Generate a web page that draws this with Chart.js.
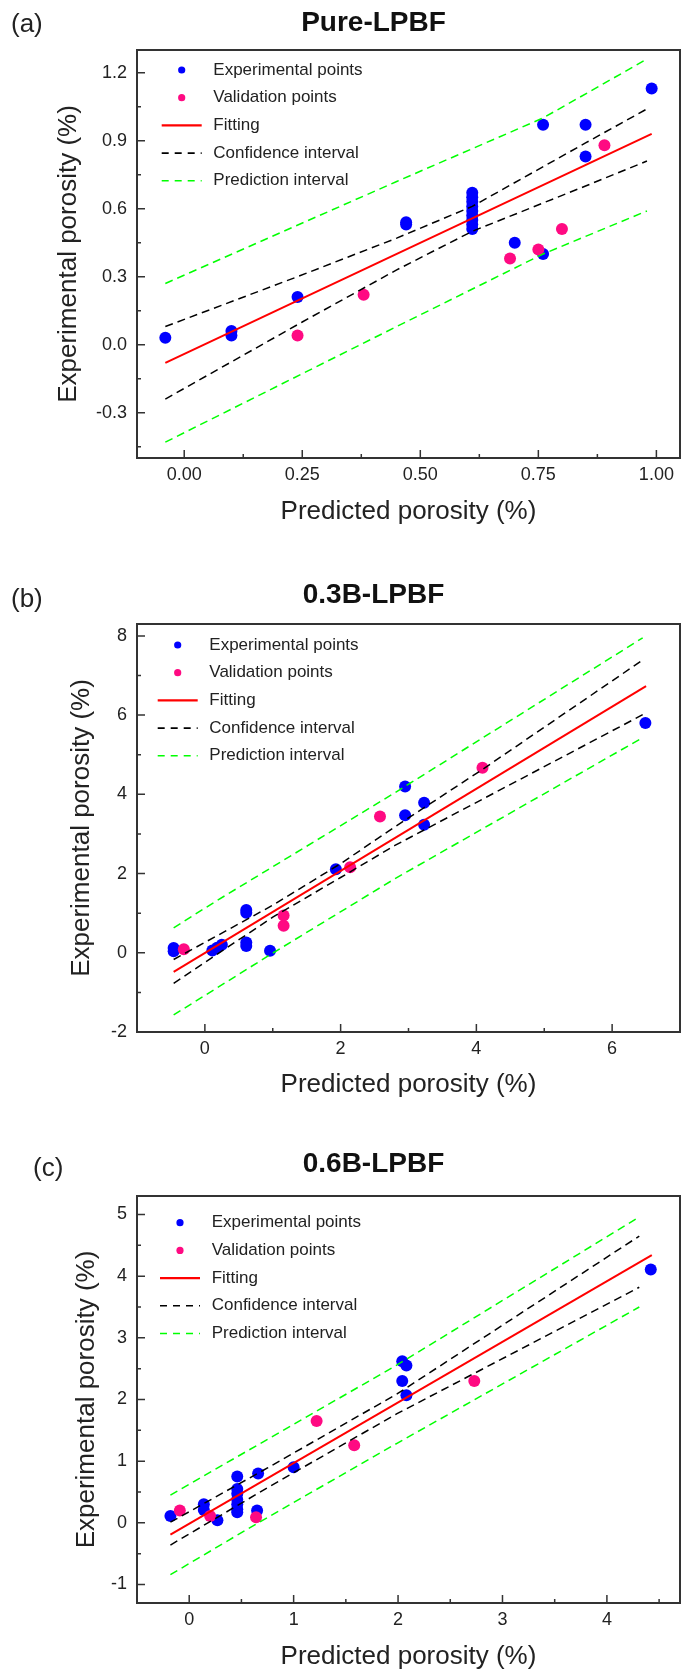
<!DOCTYPE html>
<html>
<head>
<meta charset="utf-8">
<title>Experimental vs predicted porosity</title>
<script src="https://cdn.jsdelivr.net/npm/chart.js@4.4.1/dist/chart.umd.min.js"></script>
<style>
  body { margin: 0; background: #fff; }
  #page { position: relative; width: 686px; height: 1674px; overflow: hidden; font-family: "Liberation Sans", Arial, sans-serif; }
  #page canvas { position: absolute; left: 0; }
  .tag { position: absolute; font-size: 26px; line-height: 26px; color: #222; }
</style>
</head>
<body>
<div id="page">
  <canvas id="chartA" width="686" height="540" style="top:0px"></canvas>
  <canvas id="chartB" width="686" height="540" style="top:570px"></canvas>
  <canvas id="chartC" width="686" height="534" style="top:1140px"></canvas>
  <div class="tag" style="left:11px; top:10px">(a)</div>
  <div class="tag" style="left:11px; top:585px">(b)</div>
  <div class="tag" style="left:33px; top:1154px">(c)</div>
</div>
<script>
// ---------- (a) Pure-LPBF ----------
const aTicksX = [0, 0.25, 0.5, 0.75, 1.0];
const aTicksY = [-0.3, 0, 0.3, 0.6, 0.9, 1.2];
const aExpX = [-0.04, 0.10, 0.10, 0.24, 0.47, 0.47, 0.61, 0.61, 0.61, 0.61, 0.61, 0.61, 0.61, 0.61, 0.61, 0.70, 0.76, 0.76, 0.85, 0.85, 0.99];
const aExpY = [0.03, 0.06, 0.04, 0.21, 0.54, 0.53, 0.67, 0.65, 0.63, 0.61, 0.59, 0.57, 0.55, 0.53, 0.51, 0.45, 0.97, 0.40, 0.97, 0.83, 1.13];
const aValX = [0.24, 0.38, 0.69, 0.75, 0.80, 0.89];
const aValY = [0.04, 0.22, 0.38, 0.42, 0.51, 0.88];
const aFitX = [-0.04, 0.99];
const aFitY = [-0.08, 0.93];
const aConfUpX = [-0.04, 0.24, 0.45, 0.61, 0.85, 0.98];
const aConfUpY = [0.08, 0.30, 0.47, 0.61, 0.89, 1.04];
const aConfLoX = [-0.04, 0.25, 0.45, 0.61, 0.85, 0.98];
const aConfLoY = [-0.24, 0.10, 0.33, 0.50, 0.70, 0.81];
const aPredUpX = [-0.04, 0.45, 0.76, 0.98];
const aPredUpY = [0.27, 0.72, 1.00, 1.26];
const aPredLoX = [-0.04, 0.45, 0.76, 0.98];
const aPredLoY = [-0.43, 0.08, 0.40, 0.59];

// ---------- (b) 0.3B-LPBF ----------
const bTicksX = [0, 2, 4, 6];
const bTicksY = [-2, 0, 2, 4, 6, 8];
const bExpX = [-0.46, -0.46, 0.11, 0.18, 0.25, 0.61, 0.61, 0.61, 0.61, 0.96, 1.93, 2.95, 2.95, 3.23, 3.23, 6.49];
const bExpY = [0.04, 0.12, 0.06, 0.13, 0.20, 1.08, 1.01, 0.26, 0.17, 0.05, 2.11, 3.47, 4.20, 3.79, 3.23, 5.80];
const bValX = [-0.31, 1.16, 1.16, 2.14, 2.58, 4.09];
const bValY = [0.09, 0.94, 0.68, 2.16, 3.44, 4.67];
const bFitX = [-0.46, 6.50];
const bFitY = [-0.48, 6.73];
const bConfUpX = [-0.46, 1.0, 2.0, 2.8, 4.1, 6.45];
const bConfUpY = [-0.17, 1.20, 2.25, 3.18, 4.64, 7.39];
const bConfLoX = [-0.46, 1.0, 2.0, 2.8, 3.23, 6.45];
const bConfLoY = [-0.77, 0.90, 1.90, 2.71, 3.10, 6.01];
const bPredUpX = [-0.46, 0.18, 2.8, 6.45];
const bPredUpY = [0.63, 1.32, 4.04, 7.95];
const bPredLoX = [-0.46, 0.96, 2.8, 6.45];
const bPredLoY = [-1.57, -0.05, 1.87, 5.43];

// ---------- (c) 0.6B-LPBF ----------
const cTicksX = [0, 1, 2, 3, 4];
const cTicksY = [-1, 0, 1, 2, 3, 4, 5];
const cExpX = [-0.18, 0.14, 0.14, 0.27, 0.46, 0.46, 0.46, 0.46, 0.46, 0.46, 0.46, 0.66, 0.65, 1.00, 2.04, 2.08, 2.04, 2.08, 4.42];
const cExpY = [0.11, 0.30, 0.21, 0.04, 0.75, 0.55, 0.47, 0.38, 0.30, 0.22, 0.17, 0.80, 0.20, 0.90, 2.62, 2.55, 2.30, 2.07, 4.11];
const cValX = [-0.09, 0.20, 0.64, 1.22, 1.58, 2.73];
const cValY = [0.20, 0.11, 0.09, 1.65, 1.26, 2.30];
const cFitX = [-0.18, 4.43];
const cFitY = [-0.19, 4.34];
const cConfUpX = [-0.18, 0.75, 1.99, 4.31];
const cConfUpY = [0.01, 0.89, 2.09, 4.65];
const cConfLoX = [-0.18, 0.75, 1.99, 4.31];
const cConfLoY = [-0.36, 0.57, 1.77, 3.82];
const cPredUpX = [-0.18, 1.99, 4.31];
const cPredUpY = [0.45, 2.56, 4.96];
const cPredLoX = [-0.18, 0.64, 1.99, 4.31];
const cPredLoY = [-0.84, -0.02, 1.29, 3.50];

const BLUE = '#0000ff', PINK = '#ff0a82', RED = '#ff0000', GREEN = '#00ff00', BLACK = '#000000', AXIS = '#333333';

Chart.defaults.font.family = '"Liberation Sans", Arial, sans-serif';
Chart.defaults.color = '#222';

function pts(xs, ys) {
  return xs.map((x, i) => ({ x: x, y: ys[i] }));
}

function minorsOf(majors, min, max) {
  const step = majors[1] - majors[0];
  const out = [];
  for (let v = majors[0] - step / 2; v < max - 1e-9; v += step) {
    if (v > min + 1e-9) out.push(v);
  }
  return out;
}

// frame, inward ticks and the legend box inside the plot
const deco = {
  id: 'deco',
  afterDraw(chart, args, opts) {
    const ctx = chart.ctx, a = chart.chartArea;
    const xs = chart.scales.x, ys = chart.scales.y;
    ctx.save();
    ctx.strokeStyle = AXIS;
    ctx.lineWidth = 1.5;
    ctx.beginPath();
    const xMaj = xs.ticks.map(t => t.value), yMaj = ys.ticks.map(t => t.value);
    xMaj.forEach(v => { const p = xs.getPixelForValue(v); ctx.moveTo(p, a.bottom); ctx.lineTo(p, a.bottom - 8); });
    minorsOf(xMaj, xs.min, xs.max).forEach(v => { const p = xs.getPixelForValue(v); ctx.moveTo(p, a.bottom); ctx.lineTo(p, a.bottom - 4); });
    yMaj.forEach(v => { const p = ys.getPixelForValue(v); ctx.moveTo(a.left, p); ctx.lineTo(a.left + 8, p); });
    minorsOf(yMaj, ys.min, ys.max).forEach(v => { const p = ys.getPixelForValue(v); ctx.moveTo(a.left, p); ctx.lineTo(a.left + 4, p); });
    ctx.stroke();

    ctx.lineWidth = 2;
    ctx.strokeRect(a.left, a.top, a.right - a.left, a.bottom - a.top);

    // legend
    const items = chart.data.datasets.filter(d => d.legendKind);
    ctx.font = '17px "Liberation Sans", Arial, sans-serif';
    ctx.textBaseline = 'middle';
    ctx.textAlign = 'left';
    items.forEach((d, i) => {
      const cy = a.top + opts.rowY + i * 27.7;
      const cx = a.left + opts.dotX;
      if (d.legendKind === 'dot') {
        ctx.fillStyle = d.backgroundColor;
        ctx.beginPath();
        ctx.arc(cx, cy, 3.6, 0, Math.PI * 2);
        ctx.fill();
      } else {
        ctx.strokeStyle = d.borderColor;
        ctx.lineWidth = d.legendKind === 'solid' ? 2.2 : 1.6;
        ctx.setLineDash(d.legendKind === 'solid' ? [] : [7, 6]);
        ctx.beginPath();
        ctx.moveTo(cx - 20, cy);
        ctx.lineTo(cx + 20, cy);
        ctx.stroke();
        ctx.setLineDash([]);
      }
      ctx.fillStyle = '#222';
      ctx.fillText(d.label, a.left + opts.textX, cy);
    });
    ctx.restore();
  }
};

function makeDatasets(expX, expY, valX, valY, fitX, fitY, cuX, cuY, clX, clY, puX, puY, plX, plY) {
  const dash = [8, 5];
  return [
    { label: 'Experimental points', legendKind: 'dot', data: pts(expX, expY), backgroundColor: BLUE, borderColor: BLUE, pointRadius: 6, borderWidth: 0, order: 4 },
    { label: 'Validation points', legendKind: 'dot', data: pts(valX, valY), backgroundColor: PINK, borderColor: PINK, pointRadius: 6, borderWidth: 0, order: 3 },
    { label: 'Fitting', legendKind: 'solid', data: pts(fitX, fitY), showLine: true, pointRadius: 0, borderColor: RED, borderWidth: 2, order: 0 },
    { label: 'Confidence interval', legendKind: 'dash', data: pts(cuX, cuY), showLine: true, pointRadius: 0, borderColor: BLACK, borderWidth: 1.5, borderDash: dash, order: 1 },
    { label: 'Prediction interval', legendKind: 'dash', data: pts(puX, puY), showLine: true, pointRadius: 0, borderColor: GREEN, borderWidth: 1.5, borderDash: dash, order: 1 },
    { label: 'Confidence interval (lower)', data: pts(clX, clY), showLine: true, pointRadius: 0, borderColor: BLACK, borderWidth: 1.5, borderDash: dash, order: 1 },
    { label: 'Prediction interval (lower)', data: pts(plX, plY), showLine: true, pointRadius: 0, borderColor: GREEN, borderWidth: 1.5, borderDash: dash, order: 1 }
  ];
}

function makeChart(id, title, datasets, xTicks, yTicks, xRange, yRange, L) {
  return new Chart(document.getElementById(id), {
    type: 'scatter',
    data: { datasets: datasets },
    options: {
      responsive: false,
      animation: false,
      events: [],
      layout: { padding: { left: 62, right: 1, top: 0, bottom: 0 } },
      plugins: {
        legend: { display: false },
        tooltip: { enabled: false },
        title: {
          display: true, text: title, color: '#111',
          font: { size: 28, weight: 'bold' },
          padding: { top: L.titleTop, bottom: L.titleBottom }
        },
        deco: L.legend
      },
      scales: {
        x: {
          type: 'linear', min: xRange[0], max: xRange[1],
          grid: { display: false, drawTicks: false },
          border: { display: false },
          afterBuildTicks: s => { s.ticks = xTicks.map(v => ({ value: v })); },
          afterFit: s => { s.height = L.xH; },
          ticks: { autoSkip: false, maxRotation: 0, padding: 6.5, color: '#222', font: { size: 18 }, callback: v => Number(v).toFixed(L.xDec) },
          title: { display: true, text: 'Predicted porosity (%)', color: '#222', font: { size: 26 }, padding: { top: 0, bottom: L.xTitleBottom } }
        },
        y: {
          type: 'linear', min: yRange[0], max: yRange[1],
          grid: { display: false, drawTicks: false },
          border: { display: false },
          afterBuildTicks: s => { s.ticks = yTicks.map(v => ({ value: v })); },
          afterFit: s => { s.width = 75; },
          ticks: { autoSkip: false, padding: 10, color: '#222', font: { size: 18 }, callback: v => Number(v).toFixed(L.yDec) },
          title: { display: true, text: 'Experimental porosity (%)', color: '#222', font: { size: 26 }, padding: { top: L.yTitleTop, bottom: 0 } }
        }
      }
    },
    plugins: [deco]
  });
}

makeChart('chartA', 'Pure-LPBF',
  makeDatasets(aExpX, aExpY, aValX, aValY, aFitX, aFitY, aConfUpX, aConfUpY, aConfLoX, aConfLoY, aPredUpX, aPredUpY, aPredLoX, aPredLoY),
  aTicksX, aTicksY, [-0.1, 1.05], [-0.5, 1.3],
  { titleTop: 6.2, titleBottom: 10.2, xH: 82, xTitleBottom: 12.7, yTitleTop: -9, xDec: 2, yDec: 1,
    legend: { dotX: 44.7, textX: 76.3, rowY: 20 } });

makeChart('chartB', '0.3B-LPBF',
  makeDatasets(bExpX, bExpY, bValX, bValY, bFitX, bFitY, bConfUpX, bConfUpY, bConfLoX, bConfLoY, bPredUpX, bPredUpY, bPredLoX, bPredLoY),
  bTicksX, bTicksY, [-1, 7], [-2, 8.3],
  { titleTop: 8.2, titleBottom: 12.2, xH: 78, xTitleBottom: 9.4, yTitleTop: 4, xDec: 0, yDec: 0,
    legend: { dotX: 40.7, textX: 72.3, rowY: 21 } });

makeChart('chartC', '0.6B-LPBF',
  makeDatasets(cExpX, cExpY, cValX, cValY, cFitX, cFitY, cConfUpX, cConfUpY, cConfLoX, cConfLoY, cPredUpX, cPredUpY, cPredLoX, cPredLoY),
  cTicksX, cTicksY, [-0.5, 4.7], [-1.3, 5.3],
  { titleTop: 7.2, titleBottom: 15.2, xH: 71, xTitleBottom: 1.7, yTitleTop: 9, xDec: 0, yDec: 0,
    legend: { dotX: 43, textX: 74.7, rowY: 26.7 } });
</script>
</body>
</html>
